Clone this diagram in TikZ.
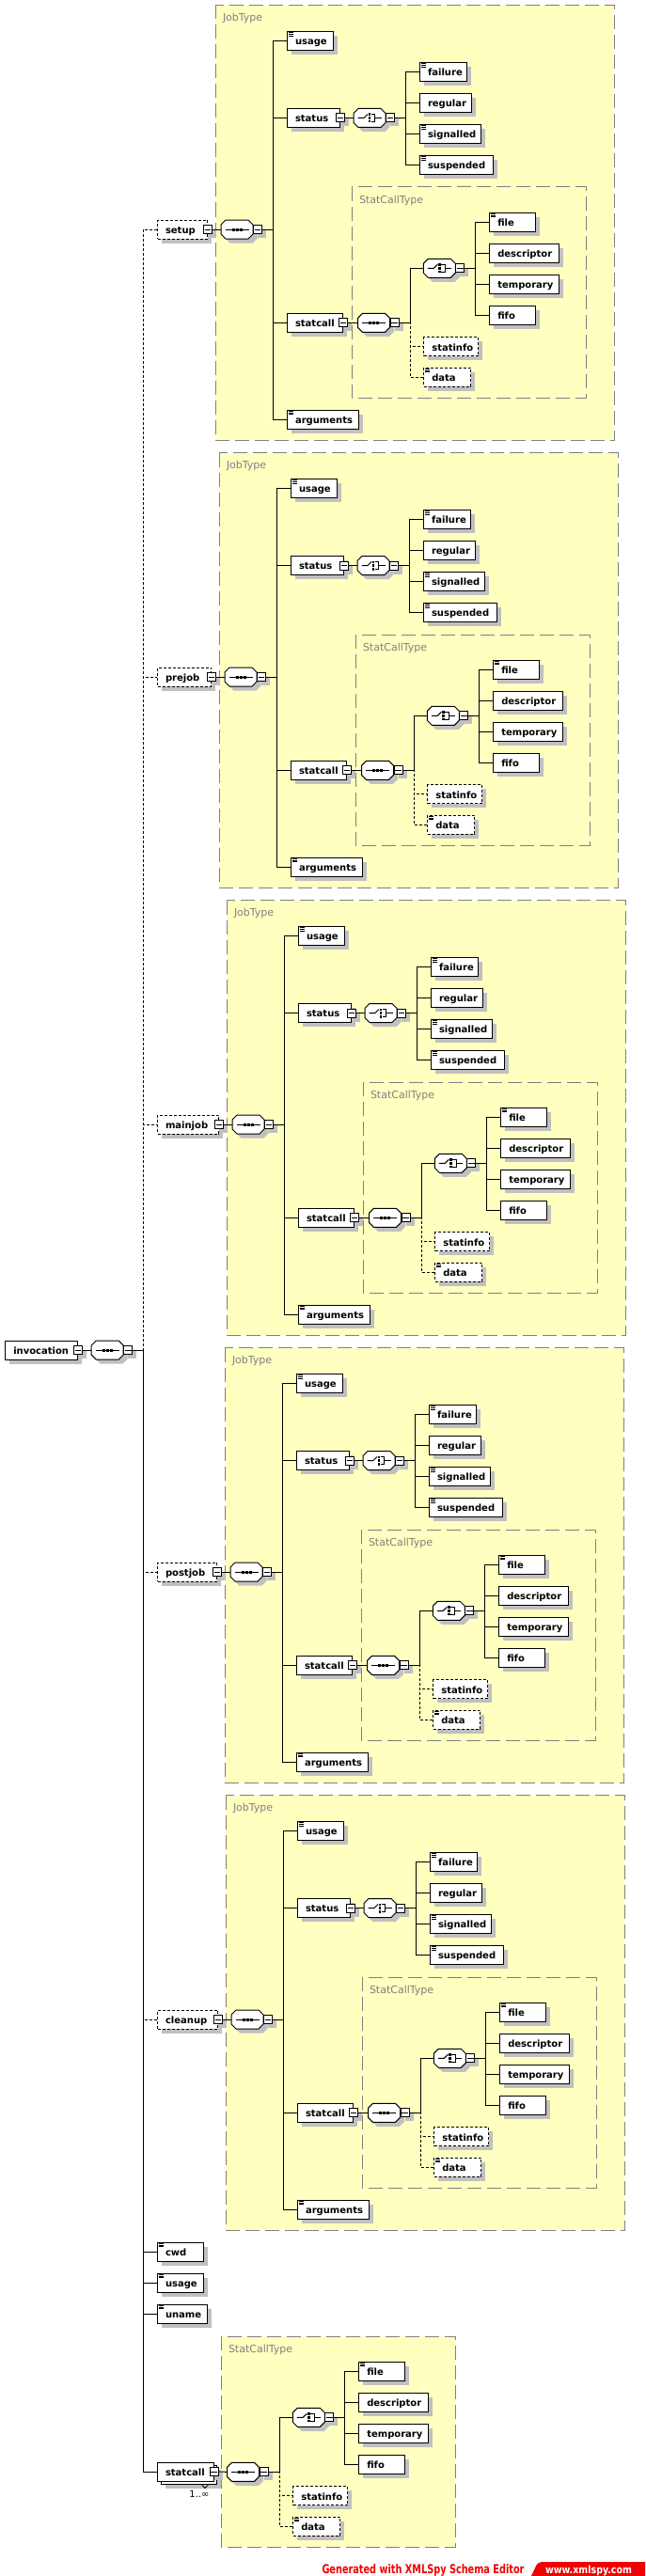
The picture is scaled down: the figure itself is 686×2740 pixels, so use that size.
\documentclass[tikz,border=0pt]{standalone}
\usepackage{fontspec}
\setmainfont{DejaVu Sans}
\usetikzlibrary{shadows}

\definecolor{jobyellow}{HTML}{FFFFC0}
\definecolor{typegray}{HTML}{808080}
\definecolor{shade}{HTML}{C0C0C0}
\definecolor{bannerred}{HTML}{F00000}

\newcommand{\elfont}{\fontsize{10pt}{12pt}\selectfont\bfseries}

\tikzset{
  sh/.style={drop shadow={shadow xshift=4.5pt, shadow yshift=-4.5pt, fill=shade, opacity=1}},
  elbase/.style={draw, fill=white, anchor=west, minimum height=20pt,
    text width=#1, inner xsep=0pt, inner ysep=0pt, align=left,
    text height=9.5pt, text depth=0.7pt, font=\elfont,
    execute at begin node={\hspace*{8.5pt}}},
  el/.style={elbase=#1, sh},
  dsh/.style={dash pattern=on 3pt off 2pt},
  opt/.style={el=#1, dsh},
  doc/.style={path picture={\foreach \k in {1.4,3.1,4.8}
    \draw[solid, black, line width=0.8pt] ([shift={(1.6,\k)}]path picture bounding box.north west) -- ++(5,0);}},
  mn/.style={draw, solid, fill=white, minimum size=9pt, inner sep=0pt, sh,
    path picture={\draw[solid, black] ([xshift=1.2pt]path picture bounding box.west) -- ([xshift=-1.2pt]path picture bounding box.east);}},
  comp/.style={inner sep=0pt, outer sep=0pt, minimum width=34pt, minimum height=20pt},
  typebox/.style={draw=typegray, fill=jobyellow, dash pattern=on 15pt off 6pt},
  typelabel/.style={anchor=base west, inner sep=0pt, text=typegray, font=\fontsize{11pt}{13pt}\selectfont}
}

% compositor: octagon with shadow, a node to connect to, and its icon
\newcommand{\compnode}[3]{%
  \draw[fill=white, sh] (#2) ++(-17,-5) -- ++(5,-5) -- ++(24,0) -- ++(5,5) -- ++(0,10)
    -- ++(-5,5) -- ++(-24,0) -- ++(-5,-5) -- cycle;
  \node[comp] (#1) at (#2) {};
  #3{#1}%
}
\newcommand{\seqicon}[1]{%
  \draw ([xshift=-12.5pt]#1.center) -- ([xshift=12.5pt]#1.center);
  \foreach \s in {-4,0,4}
    \fill ([shift={(\s-1.5,-1.5)}]#1.center) rectangle ++(3,3);
}
\newcommand{\choiceicon}[1]{%
  \draw ([xshift=-12.5pt]#1.center) -- ++(6.5,0) -- ++(4,-4);
  \foreach \s in {-3.7,0,3.7}
    \fill ([shift={(-1.2,\s-1.3)}]#1.center) rectangle ++(2.6,2.6);
  \draw ([shift={(1.6,-3.7)}]#1.center) -- ++(4.2,0) -- ++(0,7.4) -- ++(-4.2,0);
  \draw ([xshift=5.8pt]#1.center) -- ++(6.7,0);
}

% StatCallType content, in the coordinates of the setup block
\newcommand{\statcalltype}[1]{%
  \draw[typebox] (374,199) rectangle (623,423);
  \node[typelabel] (#1-sctype) at (381.5,216) {StatCallType};
  \compnode{#1-scseq}{397.5,343.3}{\seqicon}
  \node[mn] (#1-scseqm) at ([xshift=5pt]#1-scseq.east) {};
  \compnode{#1-scch}{467.3,285.3}{\choiceicon}
  \node[mn] (#1-scchm) at ([xshift=5pt]#1-scch.east) {};
  \node[el=49pt, doc] (#1-file) at (520.3,236) {file};
  \node[el=74pt] (#1-descriptor) at (520.3,269.3) {descriptor};
  \node[el=74pt] (#1-temporary) at (520.3,302.3) {temporary};
  \node[el=49pt] (#1-fifo) at (520.3,335.3) {fifo};
  \node[opt=58pt] (#1-statinfo) at (450.3,368.7) {statinfo};
  \node[opt=50pt, doc] (#1-data) at (450.3,401) {data};
  \draw (#1-scseqm.east) -- ++(11.5,0) |- (#1-scch.west);
  \foreach \c in {statinfo,data}
    \draw[dsh] (#1-scseqm.east) -- ++(11.5,0) |- (#1-\c.west);
  \foreach \c in {file,descriptor,temporary,fifo}
    \draw (#1-scchm.east) -- ++(11.5,0) |- (#1-\c.west);
}

\begin{document}
\begin{tikzpicture}[x=1pt, y=-1pt, line width=1pt]
  \useasboundingbox (0,0) rectangle (686,2740);

  % Root element
  \node[el=76.7pt] (invocation) at (5.3,1436) {invocation};
  \node[mn] (invocation-m) at (invocation.east) {};
  \compnode{inv-seq}{114.2,1436}{\seqicon}
  \node[mn] (inv-seqm) at ([xshift=5pt]inv-seq.east) {};
  \draw (invocation-m.east) -- (inv-seq.west);

  % JobType blocks
  \foreach \n/\dx/\dy/\w in {setup/0/0/53, prejob/4/476/57, mainjob/12/952/65,
                             postjob/10/1428/63, cleanup/11/1904/64}{
    \begin{scope}[shift={(\dx,\dy)}]
      \draw[typebox] (229,5.5) rectangle (653,468);
      \node[typelabel] (\n-type) at (236.5,22.5) {JobType};
      \statcalltype{\n}
      \node[opt=\w pt] (\n) at ({167-\dx},244) {\n};
      \node[mn] (\n-m) at (\n.east) {};
      \compnode{\n-seq}{252,244}{\seqicon}
      \node[mn] (\n-seqm) at ([xshift=5pt]\n-seq.east) {};
      \node[el=49pt, doc] (\n-usage) at (305,43.3) {usage};
      \node[el=56pt] (\n-status) at (305,125.5) {status};
      \node[mn] (\n-statusm) at (\n-status.east) {};
      \compnode{\n-stch}{393,125.5}{\choiceicon}
      \node[mn] (\n-stchm) at ([xshift=5pt]\n-stch.east) {};
      \node[el=50pt, doc] (\n-failure) at (446,76.3) {failure};
      \node[el=55pt] (\n-regular) at (446,109.3) {regular};
      \node[el=65pt, doc] (\n-signalled) at (446,142.3) {signalled};
      \node[el=78pt, doc] (\n-suspended) at (446,175.3) {suspended};
      \node[el=59pt] (\n-statcall) at (305,343.3) {statcall};
      \node[mn] (\n-statcallm) at (\n-statcall.east) {};
      \node[el=76pt, doc] (\n-arguments) at (305,446) {arguments};

      \draw (\n-m.east) -- (\n-seq.west);
      \foreach \c in {usage,status,statcall,arguments}
        \draw (\n-seqm.east) -- ++(11.5,0) |- (\n-\c.west);
      \draw (\n-statusm.east) -- (\n-stch.west);
      \foreach \c in {failure,regular,signalled,suspended}
        \draw (\n-stchm.east) -- ++(11.5,0) |- (\n-\c.west);
      \draw (\n-statcallm.east) -- (\n-scseq.west);
    \end{scope}
    \draw[dsh] (inv-seqm.east) -- ++(11,0) |- (\n.west);
  }

  % Remaining children of invocation
  \begin{scope}[shift={(-139,2286)}]
    \statcalltype{inv}
  \end{scope}
  \node[el=49pt, doc] (cwd) at (167,2395) {cwd};
  \node[el=49pt, doc] (usage) at (167,2428) {usage};
  \node[el=53pt, doc] (uname) at (167,2461) {uname};
  \node[el=59.7pt] (statcall-back) at (170.5,2632.5) {};
  \node[elbase=59.7pt] (statcall) at (167,2629) {statcall};
  \node[mn] (statcall-m) at (statcall.east) {};
  \draw[line width=0.8pt] (214.5,2642.8) -- (218,2646.5) -- (221.5,2642.8);
  \node[inner sep=0pt, font=\fontsize{10pt}{12pt}\selectfont] (statcall-occ) at (212,2653) {1..∞};
  \foreach \c in {cwd,usage,uname,statcall}
    \draw (inv-seqm.east) -- ++(11,0) |- (\c.west);
  \draw (statcall-m.east) -- (inv-scseq.west);

  % Banner
  \node[inner sep=0pt, text=bannerred, anchor=base west] (gen) at (342,2737)
    {\resizebox{215pt}{10pt}{\bfseries Generated with XMLSpy Schema Editor}};
  \fill[bannerred] (565,2740) [rounded corners=4pt] -- (572,2725) [sharp corners] -- (686,2725) -- (686,2740) -- cycle;
  \node[inner sep=0pt, text=white, anchor=base west] (www) at (579.5,2737)
    {\resizebox{92pt}{8.5pt}{\bfseries www.xmlspy.com}};
\end{tikzpicture}
\end{document}
